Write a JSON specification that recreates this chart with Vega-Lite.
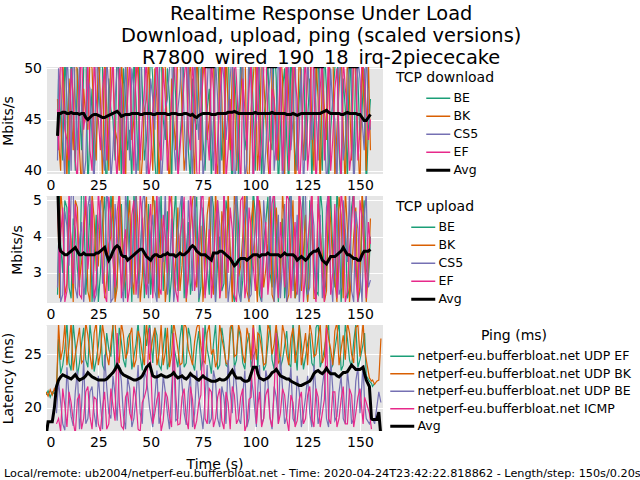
{
"$schema": "https://vega.github.io/schema/vega-lite/v6.json",
"padding": {"left": 1, "right": 2, "top": 3, "bottom": 2},
"background": "white",
"title": {"text": ["Realtime Response Under Load", "Download, upload, ping (scaled versions)", "R7800_wired_190_18_irq-2piececake"], "fontSize": 19.4, "lineHeight": 22, "font": "DejaVu Sans", "fontWeight": "normal", "anchor": "middle", "color": "black", "offset": -7},
"datasets": {
"dl": [
{"t":5.5,"BE":44,"BK":47,"CS5":41,"EF":46,"Avg":43.4},
{"t":6,"BE":49,"BK":43,"CS5":50,"EF":42,"Avg":45.6},
{"t":8,"BE":41,"BK":51,"CS5":44,"EF":49,"Avg":45.7},
{"t":10,"BE":47,"BK":39,"CS5":52,"EF":43,"Avg":45.6},
{"t":12,"BE":52,"BK":46,"CS5":40,"EF":50,"Avg":45.7},
{"t":14,"BE":40,"BK":53,"CS5":47,"EF":41,"Avg":45.6},
{"t":16,"BE":46,"BK":42,"CS5":51,"EF":48,"Avg":45.5},
{"t":18,"BE":50,"BK":48,"CS5":39,"EF":44,"Avg":45.6},
{"t":20,"BE":38,"BK":44,"CS5":49,"EF":51,"Avg":45.0},
{"t":22,"BE":48,"BK":50,"CS5":43,"EF":40,"Avg":45.4},
{"t":24,"BE":43,"BK":41,"CS5":52,"EF":47,"Avg":45.5},
{"t":26,"BE":51,"BK":47,"CS5":45,"EF":42,"Avg":45.3},
{"t":28,"BE":42,"BK":52,"CS5":40,"EF":50,"Avg":45.2},
{"t":30,"BE":49,"BK":40,"CS5":48,"EF":44,"Avg":45.4},
{"t":32,"BE":45,"BK":49,"CS5":42,"EF":52,"Avg":45.6},
{"t":34,"BE":53,"BK":43,"CS5":50,"EF":39,"Avg":45.8},
{"t":36,"BE":39,"BK":51,"CS5":44,"EF":48,"Avg":45.3},
{"t":38,"BE":47,"BK":38,"CS5":51,"EF":43,"Avg":45.5},
{"t":40,"BE":44,"BK":50,"CS5":41,"EF":51,"Avg":45.5},
{"t":42,"BE":51,"BK":45,"CS5":48,"EF":40,"Avg":45.6},
{"t":44,"BE":40,"BK":52,"CS5":43,"EF":49,"Avg":45.6},
{"t":46,"BE":48,"BK":41,"CS5":52,"EF":45,"Avg":45.5},
{"t":48,"BE":43,"BK":47,"CS5":39,"EF":51,"Avg":45.6},
{"t":50,"BE":52,"BK":44,"CS5":49,"EF":41,"Avg":45.6},
{"t":52,"BE":41,"BK":50,"CS5":44,"EF":48,"Avg":45.5},
{"t":54,"BE":49,"BK":39,"CS5":51,"EF":43,"Avg":45.6},
{"t":56,"BE":45,"BK":52,"CS5":42,"EF":50,"Avg":45.6},
{"t":58,"BE":50,"BK":43,"CS5":47,"EF":40,"Avg":45.5},
{"t":60,"BE":38,"BK":49,"CS5":52,"EF":47,"Avg":45.6},
{"t":62,"BE":47,"BK":42,"CS5":40,"EF":52,"Avg":45.6},
{"t":64,"BE":43,"BK":51,"CS5":48,"EF":42,"Avg":45.5},
{"t":66,"BE":51,"BK":40,"CS5":45,"EF":49,"Avg":45.6},
{"t":68,"BE":42,"BK":48,"CS5":51,"EF":44,"Avg":45.5},
{"t":70,"BE":49,"BK":44,"CS5":39,"EF":51,"Avg":45.5},
{"t":72,"BE":44,"BK":52,"CS5":47,"EF":40,"Avg":45.2},
{"t":74,"BE":52,"BK":41,"CS5":50,"EF":46,"Avg":45.5},
{"t":76,"BE":40,"BK":49,"CS5":42,"EF":52,"Avg":45.6},
{"t":78,"BE":48,"BK":45,"CS5":53,"EF":41,"Avg":45.6},
{"t":80,"BE":45,"BK":51,"CS5":40,"EF":48,"Avg":45.5},
{"t":82,"BE":51,"BK":39,"CS5":47,"EF":43,"Avg":45.6},
{"t":84,"BE":41,"BK":47,"CS5":51,"EF":50,"Avg":45.6},
{"t":86,"BE":49,"BK":53,"CS5":43,"EF":39,"Avg":45.6},
{"t":88,"BE":43,"BK":42,"CS5":49,"EF":47,"Avg":45.7},
{"t":90,"BE":50,"BK":48,"CS5":38,"EF":52,"Avg":45.8},
{"t":92,"BE":39,"BK":44,"CS5":46,"EF":44,"Avg":45.6},
{"t":94,"BE":47,"BK":51,"CS5":52,"EF":49,"Avg":45.6},
{"t":96,"BE":44,"BK":40,"CS5":41,"EF":42,"Avg":45.6},
{"t":98,"BE":52,"BK":46,"CS5":48,"EF":51,"Avg":45.6},
{"t":100,"BE":40,"BK":52,"CS5":44,"EF":45,"Avg":45.7},
{"t":102,"BE":48,"BK":43,"CS5":50,"EF":40,"Avg":45.6},
{"t":104,"BE":45,"BK":49,"CS5":39,"EF":50,"Avg":45.6},
{"t":106,"BE":51,"BK":41,"CS5":47,"EF":44,"Avg":45.6},
{"t":108,"BE":42,"BK":50,"CS5":52,"EF":48,"Avg":45.7},
{"t":110,"BE":49,"BK":44,"CS5":43,"EF":41,"Avg":45.6},
{"t":112,"BE":44,"BK":52,"CS5":49,"EF":51,"Avg":45.6},
{"t":114,"BE":50,"BK":39,"CS5":42,"EF":46,"Avg":45.6},
{"t":116,"BE":38,"BK":47,"CS5":51,"EF":40,"Avg":45.5},
{"t":118,"BE":47,"BK":51,"CS5":45,"EF":52,"Avg":45.6},
{"t":120,"BE":44,"BK":42,"CS5":40,"EF":47,"Avg":45.4},
{"t":122,"BE":51,"BK":48,"CS5":50,"EF":42,"Avg":45.6},
{"t":124,"BE":41,"BK":45,"CS5":44,"EF":51,"Avg":45.6},
{"t":126,"BE":49,"BK":53,"CS5":47,"EF":43,"Avg":45.6},
{"t":128,"BE":45,"BK":40,"CS5":52,"EF":49,"Avg":45.6},
{"t":130,"BE":52,"BK":47,"CS5":41,"EF":44,"Avg":45.6},
{"t":132,"BE":40,"BK":50,"CS5":48,"EF":51,"Avg":45.7},
{"t":134,"BE":48,"BK":43,"CS5":39,"EF":45,"Avg":45.9},
{"t":136,"BE":44,"BK":51,"CS5":50,"EF":40,"Avg":45.6},
{"t":138,"BE":50,"BK":39,"CS5":45,"EF":48,"Avg":45.6},
{"t":140,"BE":42,"BK":48,"CS5":52,"EF":43,"Avg":45.6},
{"t":142,"BE":49,"BK":44,"CS5":41,"EF":51,"Avg":45.5},
{"t":144,"BE":39,"BK":52,"CS5":47,"EF":46,"Avg":45.7},
{"t":146,"BE":47,"BK":41,"CS5":50,"EF":42,"Avg":45.6},
{"t":148,"BE":51,"BK":49,"CS5":43,"EF":50,"Avg":45.6},
{"t":150,"BE":43,"BK":38,"CS5":49,"EF":44,"Avg":45.5},
{"t":152,"BE":50,"BK":46,"CS5":42,"EF":49,"Avg":44.9},
{"t":154,"BE":44,"BK":51,"CS5":46,"EF":43,"Avg":45.2},
{"t":155,"BE":47,"BK":42,"CS5":44,"EF":45,"Avg":45.5},
{"t":7,"BE":45,"BK":40,"CS5":48,"EF":52,"Avg":45.6},
{"t":9,"BE":51,"BK":46,"CS5":39,"EF":44,"Avg":45.7},
{"t":11,"BE":39,"BK":49,"CS5":47,"EF":41,"Avg":45.6},
{"t":13,"BE":46,"BK":42,"CS5":53,"EF":47,"Avg":45.6},
{"t":15,"BE":50,"BK":49,"CS5":42,"EF":39,"Avg":45.6},
{"t":17,"BE":42,"BK":38,"CS5":46,"EF":52,"Avg":45.6},
{"t":19,"BE":53,"BK":45,"CS5":41,"EF":46,"Avg":45.2},
{"t":21,"BE":44,"BK":51,"CS5":48,"EF":42,"Avg":45.2},
{"t":23,"BE":40,"BK":44,"CS5":38,"EF":51,"Avg":45.5},
{"t":25,"BE":47,"BK":52,"CS5":49,"EF":45,"Avg":45.4},
{"t":27,"BE":50,"BK":39,"CS5":42,"EF":48,"Avg":45.2},
{"t":29,"BE":38,"BK":46,"CS5":51,"EF":41,"Avg":45.3},
{"t":31,"BE":46,"BK":53,"CS5":39,"EF":47,"Avg":45.5},
{"t":33,"BE":41,"BK":44,"CS5":47,"EF":42,"Avg":45.7},
{"t":35,"BE":48,"BK":40,"CS5":53,"EF":50,"Avg":45.6},
{"t":37,"BE":50,"BK":47,"CS5":40,"EF":38,"Avg":45.4},
{"t":39,"BE":42,"BK":52,"CS5":46,"EF":47,"Avg":45.5},
{"t":41,"BE":39,"BK":43,"CS5":50,"EF":44,"Avg":45.6},
{"t":43,"BE":47,"BK":49,"CS5":39,"EF":52,"Avg":45.6},
{"t":45,"BE":53,"BK":38,"CS5":46,"EF":41,"Avg":45.5},
{"t":47,"BE":41,"BK":46,"CS5":51,"EF":48,"Avg":45.6},
{"t":49,"BE":46,"BK":51,"CS5":42,"EF":39,"Avg":45.6},
{"t":51,"BE":49,"BK":40,"CS5":47,"EF":46,"Avg":45.5},
{"t":53,"BE":38,"BK":47,"CS5":53,"EF":52,"Avg":45.6},
{"t":55,"BE":52,"BK":44,"CS5":38,"EF":41,"Avg":45.6},
{"t":57,"BE":43,"BK":50,"CS5":46,"EF":47,"Avg":45.6},
{"t":59,"BE":47,"BK":38,"CS5":50,"EF":43,"Avg":45.5},
{"t":61,"BE":51,"BK":45,"CS5":43,"EF":49,"Avg":45.6},
{"t":63,"BE":40,"BK":53,"CS5":46,"EF":39,"Avg":45.5},
{"t":65,"BE":46,"BK":46,"CS5":52,"EF":45,"Avg":45.5},
{"t":67,"BE":53,"BK":42,"CS5":40,"EF":51,"Avg":45.6},
{"t":69,"BE":39,"BK":51,"CS5":44,"EF":42,"Avg":45.4},
{"t":71,"BE":45,"BK":39,"CS5":52,"EF":47,"Avg":45.3},
{"t":73,"BE":50,"BK":47,"CS5":43,"EF":38,"Avg":45.4},
{"t":75,"BE":43,"BK":53,"CS5":39,"EF":49,"Avg":45.6},
{"t":77,"BE":46,"BK":43,"CS5":48,"EF":44,"Avg":45.6},
{"t":79,"BE":39,"BK":50,"CS5":44,"EF":51,"Avg":45.5},
{"t":81,"BE":52,"BK":42,"CS5":51,"EF":39,"Avg":45.5},
{"t":83,"BE":47,"BK":52,"CS5":38,"EF":47,"Avg":45.6},
{"t":85,"BE":44,"BK":38,"CS5":49,"EF":53,"Avg":45.6},
{"t":87,"BE":53,"BK":46,"CS5":46,"EF":42,"Avg":45.7},
{"t":89,"BE":38,"BK":50,"CS5":52,"EF":40,"Avg":45.7},
{"t":91,"BE":46,"BK":40,"CS5":41,"EF":49,"Avg":45.7},
{"t":93,"BE":52,"BK":47,"CS5":49,"EF":38,"Avg":45.6},
{"t":95,"BE":42,"BK":53,"CS5":39,"EF":46,"Avg":45.6},
{"t":97,"BE":49,"BK":39,"CS5":53,"EF":48,"Avg":45.6},
{"t":99,"BE":46,"BK":49,"CS5":38,"EF":39,"Avg":45.6},
{"t":101,"BE":53,"BK":40,"CS5":46,"EF":52,"Avg":45.6},
{"t":103,"BE":39,"BK":52,"CS5":53,"EF":43,"Avg":45.6},
{"t":105,"BE":47,"BK":45,"CS5":42,"EF":53,"Avg":45.6},
{"t":107,"BE":43,"BK":38,"CS5":49,"EF":39,"Avg":45.6},
{"t":109,"BE":53,"BK":47,"CS5":40,"EF":47,"Avg":45.6},
{"t":111,"BE":38,"BK":41,"CS5":51,"EF":44,"Avg":45.6},
{"t":113,"BE":48,"BK":49,"CS5":38,"EF":40,"Avg":45.6},
{"t":115,"BE":43,"BK":53,"CS5":48,"EF":52,"Avg":45.5},
{"t":117,"BE":52,"BK":43,"CS5":42,"EF":43,"Avg":45.5},
{"t":119,"BE":40,"BK":38,"CS5":52,"EF":49,"Avg":45.5},
{"t":121,"BE":47,"BK":52,"CS5":44,"EF":38,"Avg":45.5},
{"t":123,"BE":53,"BK":41,"CS5":38,"EF":48,"Avg":45.6},
{"t":125,"BE":45,"BK":49,"CS5":51,"EF":40,"Avg":45.6},
{"t":127,"BE":39,"BK":44,"CS5":43,"EF":53,"Avg":45.6},
{"t":129,"BE":48,"BK":51,"CS5":46,"EF":38,"Avg":45.6},
{"t":131,"BE":44,"BK":38,"CS5":53,"EF":48,"Avg":45.6},
{"t":133,"BE":52,"BK":46,"CS5":44,"EF":41,"Avg":45.8},
{"t":135,"BE":39,"BK":49,"CS5":41,"EF":52,"Avg":45.7},
{"t":137,"BE":47,"BK":53,"CS5":46,"EF":43,"Avg":45.6},
{"t":139,"BE":53,"BK":44,"CS5":38,"EF":50,"Avg":45.6},
{"t":141,"BE":38,"BK":52,"CS5":49,"EF":39,"Avg":45.5},
{"t":143,"BE":46,"BK":38,"CS5":43,"EF":48,"Avg":45.6},
{"t":145,"BE":52,"BK":47,"CS5":53,"EF":40,"Avg":45.6},
{"t":147,"BE":40,"BK":52,"CS5":38,"EF":53,"Avg":45.6},
{"t":149,"BE":49,"BK":43,"CS5":51,"EF":41,"Avg":45.5},
{"t":151,"BE":46,"BK":51,"CS5":45,"EF":52,"Avg":45.2},
{"t":153,"BE":38,"BK":40,"CS5":52,"EF":46,"Avg":44.9}
],
"ul": [
{"t":5.5,"BE":2.4,"BK":5.4,"CS5":2.6,"EF":5.2,"Avg":5.6},
{"t":6.5,"BE":5.2,"BK":2.3,"CS5":4.9,"EF":3.0,"Avg":3.7},
{"t":8,"BE":3.0,"BK":4.6,"CS5":2.4,"EF":4.8,"Avg":3.55},
{"t":10,"BE":4.8,"BK":2.7,"CS5":4.3,"EF":2.5,"Avg":3.5},
{"t":12,"BE":2.3,"BK":3.9,"CS5":5.1,"EF":3.6,"Avg":3.6},
{"t":14,"BE":4.2,"BK":5.0,"CS5":2.6,"EF":4.9,"Avg":3.7},
{"t":16,"BE":2.6,"BK":2.8,"CS5":3.9,"EF":2.4,"Avg":3.5},
{"t":18,"BE":5.3,"BK":4.1,"CS5":2.2,"EF":4.4,"Avg":3.55},
{"t":20,"BE":3.4,"BK":2.5,"CS5":4.8,"EF":3.1,"Avg":3.5},
{"t":22,"BE":2.2,"BK":5.2,"CS5":3.0,"EF":5.0,"Avg":3.5},
{"t":24,"BE":4.6,"BK":3.1,"CS5":2.4,"EF":2.7,"Avg":3.55},
{"t":26,"BE":3.0,"BK":4.7,"CS5":5.0,"EF":4.3,"Avg":3.6},
{"t":28,"BE":5.1,"BK":2.3,"CS5":3.2,"EF":2.4,"Avg":3.7},
{"t":30,"BE":2.5,"BK":3.8,"CS5":4.6,"EF":5.1,"Avg":3.35},
{"t":32,"BE":4.4,"BK":5.3,"CS5":2.3,"EF":3.3,"Avg":3.6},
{"t":34,"BE":2.9,"BK":2.6,"CS5":4.0,"EF":4.7,"Avg":3.75},
{"t":36,"BE":4.9,"BK":4.4,"CS5":2.7,"EF":2.3,"Avg":3.5},
{"t":38,"BE":2.3,"BK":3.0,"CS5":5.2,"EF":4.2,"Avg":3.45},
{"t":40,"BE":3.8,"BK":5.0,"CS5":3.1,"EF":2.6,"Avg":3.4},
{"t":42,"BE":5.2,"BK":2.4,"CS5":4.4,"EF":5.0,"Avg":3.5},
{"t":44,"BE":2.7,"BK":4.2,"CS5":2.3,"EF":3.2,"Avg":3.6},
{"t":46,"BE":4.5,"BK":2.9,"CS5":4.9,"EF":4.5,"Avg":3.65},
{"t":48,"BE":3.2,"BK":5.1,"CS5":3.0,"EF":2.4,"Avg":3.45},
{"t":50,"BE":2.4,"BK":3.3,"CS5":4.1,"EF":4.9,"Avg":3.35},
{"t":52,"BE":5.0,"BK":4.6,"CS5":2.5,"EF":3.5,"Avg":3.5},
{"t":54,"BE":3.6,"BK":2.3,"CS5":5.1,"EF":2.6,"Avg":3.45},
{"t":56,"BE":2.5,"BK":4.0,"CS5":3.3,"EF":4.6,"Avg":3.5},
{"t":58,"BE":4.7,"BK":2.8,"CS5":2.4,"EF":3.0,"Avg":3.55},
{"t":60,"BE":2.9,"BK":5.2,"CS5":4.5,"EF":4.8,"Avg":3.5},
{"t":62,"BE":5.3,"BK":3.4,"CS5":2.7,"EF":2.5,"Avg":3.45},
{"t":64,"BE":3.1,"BK":2.5,"CS5":4.8,"EF":4.0,"Avg":3.55},
{"t":66,"BE":2.3,"BK":4.5,"CS5":3.0,"EF":5.1,"Avg":3.5},
{"t":68,"BE":4.4,"BK":3.0,"CS5":5.0,"EF":2.8,"Avg":3.6},
{"t":70,"BE":3.0,"BK":5.0,"CS5":2.5,"EF":4.4,"Avg":3.75},
{"t":72,"BE":5.1,"BK":2.6,"CS5":3.9,"EF":3.0,"Avg":3.6},
{"t":74,"BE":2.6,"BK":4.3,"CS5":5.2,"EF":4.9,"Avg":3.5},
{"t":76,"BE":4.0,"BK":3.2,"CS5":2.4,"EF":2.3,"Avg":3.5},
{"t":78,"BE":2.4,"BK":5.1,"CS5":4.3,"EF":4.2,"Avg":3.4},
{"t":80,"BE":4.8,"BK":2.4,"CS5":3.1,"EF":3.1,"Avg":3.55},
{"t":82,"BE":3.3,"BK":3.9,"CS5":5.0,"EF":5.0,"Avg":3.55},
{"t":84,"BE":2.5,"BK":4.7,"CS5":2.6,"EF":2.7,"Avg":3.6},
{"t":86,"BE":5.0,"BK":2.3,"CS5":4.0,"EF":3.9,"Avg":3.5},
{"t":88,"BE":3.5,"BK":3.6,"CS5":2.8,"EF":4.8,"Avg":3.4},
{"t":90,"BE":2.2,"BK":5.2,"CS5":4.6,"EF":2.4,"Avg":3.2},
{"t":92,"BE":4.3,"BK":2.9,"CS5":2.5,"EF":3.4,"Avg":3.35},
{"t":94,"BE":2.8,"BK":4.0,"CS5":3.7,"EF":5.1,"Avg":3.4},
{"t":96,"BE":5.2,"BK":2.5,"CS5":5.1,"EF":2.8,"Avg":3.35},
{"t":98,"BE":3.0,"BK":4.4,"CS5":2.4,"EF":4.2,"Avg":3.45},
{"t":100,"BE":4.6,"BK":3.1,"CS5":4.2,"EF":2.5,"Avg":3.5},
{"t":102,"BE":2.4,"BK":5.0,"CS5":3.0,"EF":4.6,"Avg":3.45},
{"t":104,"BE":3.9,"BK":2.6,"CS5":5.0,"EF":3.3,"Avg":3.5},
{"t":106,"BE":5.1,"BK":3.8,"CS5":2.6,"EF":2.4,"Avg":3.55},
{"t":108,"BE":2.6,"BK":2.4,"CS5":4.4,"EF":4.9,"Avg":3.5},
{"t":110,"BE":4.2,"BK":4.8,"CS5":3.1,"EF":3.0,"Avg":3.5},
{"t":112,"BE":3.2,"BK":2.7,"CS5":2.3,"EF":4.4,"Avg":3.45},
{"t":114,"BE":2.3,"BK":4.3,"CS5":4.9,"EF":2.6,"Avg":3.55},
{"t":116,"BE":4.9,"BK":2.4,"CS5":3.4,"EF":5.0,"Avg":3.5},
{"t":118,"BE":3.5,"BK":5.0,"CS5":2.5,"EF":3.5,"Avg":3.5},
{"t":120,"BE":2.5,"BK":3.2,"CS5":4.6,"EF":2.4,"Avg":3.35},
{"t":122,"BE":4.5,"BK":2.5,"CS5":3.0,"EF":4.7,"Avg":3.45},
{"t":124,"BE":2.8,"BK":4.6,"CS5":5.1,"EF":3.1,"Avg":3.35},
{"t":126,"BE":5.0,"BK":3.0,"CS5":2.6,"EF":4.5,"Avg":3.5},
{"t":128,"BE":3.3,"BK":2.3,"CS5":4.3,"EF":2.6,"Avg":3.6},
{"t":130,"BE":2.4,"BK":4.9,"CS5":3.2,"EF":5.2,"Avg":3.65},
{"t":132,"BE":4.7,"BK":3.5,"CS5":2.3,"EF":3.0,"Avg":3.35},
{"t":134,"BE":3.0,"BK":2.5,"CS5":4.8,"EF":4.3,"Avg":3.25},
{"t":136,"BE":5.2,"BK":4.4,"CS5":2.9,"EF":2.4,"Avg":3.45},
{"t":138,"BE":2.6,"BK":2.8,"CS5":4.1,"EF":4.9,"Avg":3.45},
{"t":140,"BE":4.4,"BK":5.1,"CS5":2.4,"EF":3.2,"Avg":3.55},
{"t":142,"BE":3.1,"BK":2.3,"CS5":5.0,"EF":4.6,"Avg":3.7},
{"t":144,"BE":2.3,"BK":4.2,"CS5":3.3,"EF":2.5,"Avg":3.5},
{"t":146,"BE":4.8,"BK":3.0,"CS5":2.5,"EF":4.4,"Avg":3.45},
{"t":148,"BE":3.4,"BK":4.8,"CS5":4.7,"EF":2.9,"Avg":3.4},
{"t":150,"BE":2.5,"BK":2.6,"CS5":3.0,"EF":5.0,"Avg":3.35},
{"t":152,"BE":5.0,"BK":4.1,"CS5":4.5,"EF":3.6,"Avg":3.6},
{"t":154,"BE":2.8,"BK":3.0,"CS5":2.6,"EF":4.4,"Avg":3.6},
{"t":155,"BE":4.0,"BK":4.5,"CS5":2.8,"EF":3.8,"Avg":3.65},
{"t":7,"BE":3.8,"BK":5.3,"CS5":2.2,"EF":4.0,"Avg":3.6},
{"t":9,"BE":5.0,"BK":2.4,"CS5":4.7,"EF":2.2,"Avg":3.5},
{"t":11,"BE":2.6,"BK":4.6,"CS5":3.2,"EF":5.3,"Avg":3.55},
{"t":13,"BE":4.5,"BK":2.2,"CS5":5.3,"EF":2.7,"Avg":3.65},
{"t":15,"BE":3.1,"BK":4.8,"CS5":2.3,"EF":4.2,"Avg":3.6},
{"t":17,"BE":5.4,"BK":3.3,"CS5":4.4,"EF":2.3,"Avg":3.5},
{"t":19,"BE":2.4,"BK":5.0,"CS5":3.0,"EF":5.2,"Avg":3.5},
{"t":21,"BE":4.9,"BK":2.2,"CS5":5.2,"EF":3.8,"Avg":3.5},
{"t":23,"BE":3.3,"BK":4.5,"CS5":2.2,"EF":2.3,"Avg":3.5},
{"t":25,"BE":2.2,"BK":3.2,"CS5":4.2,"EF":5.3,"Avg":3.55},
{"t":27,"BE":4.4,"BK":5.4,"CS5":2.7,"EF":3.1,"Avg":3.65},
{"t":29,"BE":3.4,"BK":2.8,"CS5":5.3,"EF":2.2,"Avg":3.5},
{"t":31,"BE":5.2,"BK":4.0,"CS5":2.2,"EF":4.5,"Avg":3.45},
{"t":33,"BE":2.3,"BK":2.2,"CS5":4.9,"EF":2.6,"Avg":3.7},
{"t":35,"BE":4.0,"BK":5.3,"CS5":3.4,"EF":5.2,"Avg":3.7},
{"t":37,"BE":3.2,"BK":2.5,"CS5":2.2,"EF":3.7,"Avg":3.45},
{"t":39,"BE":5.3,"BK":4.3,"CS5":4.5,"EF":2.2,"Avg":3.35},
{"t":41,"BE":2.2,"BK":2.9,"CS5":2.6,"EF":4.6,"Avg":3.45},
{"t":43,"BE":4.3,"BK":5.3,"CS5":5.2,"EF":2.4,"Avg":3.55},
{"t":45,"BE":3.6,"BK":2.2,"CS5":3.1,"EF":5.2,"Avg":3.65},
{"t":47,"BE":2.3,"BK":4.5,"CS5":5.3,"EF":3.0,"Avg":3.55},
{"t":49,"BE":4.9,"BK":2.7,"CS5":2.3,"EF":4.3,"Avg":3.4},
{"t":51,"BE":3.3,"BK":5.3,"CS5":4.6,"EF":2.3,"Avg":3.45},
{"t":53,"BE":2.3,"BK":3.0,"CS5":2.2,"EF":5.3,"Avg":3.5},
{"t":55,"BE":5.2,"BK":4.5,"CS5":4.2,"EF":2.4,"Avg":3.45},
{"t":57,"BE":3.4,"BK":2.2,"CS5":5.3,"EF":4.0,"Avg":3.5},
{"t":59,"BE":2.2,"BK":5.3,"CS5":3.0,"EF":5.2,"Avg":3.5},
{"t":61,"BE":4.4,"BK":2.4,"CS5":2.2,"EF":3.3,"Avg":3.5},
{"t":63,"BE":2.5,"BK":4.8,"CS5":4.0,"EF":2.2,"Avg":3.5},
{"t":65,"BE":5.3,"BK":3.2,"CS5":5.3,"EF":4.4,"Avg":3.5},
{"t":67,"BE":3.6,"BK":2.2,"CS5":2.3,"EF":2.3,"Avg":3.55},
{"t":69,"BE":2.4,"BK":4.2,"CS5":4.0,"EF":5.3,"Avg":3.7},
{"t":71,"BE":4.6,"BK":5.3,"CS5":5.3,"EF":2.5,"Avg":3.7},
{"t":73,"BE":2.2,"BK":3.5,"CS5":2.3,"EF":4.0,"Avg":3.55},
{"t":75,"BE":4.8,"BK":2.2,"CS5":4.3,"EF":5.3,"Avg":3.5},
{"t":77,"BE":3.2,"BK":4.6,"CS5":3.0,"EF":3.2,"Avg":3.45},
{"t":79,"BE":5.3,"BK":2.9,"CS5":5.3,"EF":2.3,"Avg":3.35},
{"t":81,"BE":2.2,"BK":5.3,"CS5":2.2,"EF":4.4,"Avg":3.55},
{"t":83,"BE":4.0,"BK":2.3,"CS5":4.3,"EF":2.3,"Avg":3.6},
{"t":85,"BE":2.7,"BK":4.2,"CS5":5.2,"EF":5.3,"Avg":3.55},
{"t":87,"BE":4.6,"BK":5.3,"CS5":2.2,"EF":3.0,"Avg":3.45},
{"t":89,"BE":2.5,"BK":2.2,"CS5":3.6,"EF":4.2,"Avg":3.3},
{"t":91,"BE":5.3,"BK":4.6,"CS5":5.3,"EF":2.2,"Avg":3.25},
{"t":93,"BE":2.2,"BK":3.2,"CS5":2.2,"EF":5.0,"Avg":3.4},
{"t":95,"BE":4.0,"BK":5.3,"CS5":4.6,"EF":2.3,"Avg":3.4},
{"t":97,"BE":2.3,"BK":2.2,"CS5":2.3,"EF":4.8,"Avg":3.4},
{"t":99,"BE":5.3,"BK":5.0,"CS5":3.6,"EF":3.2,"Avg":3.5},
{"t":101,"BE":3.4,"BK":2.2,"CS5":5.3,"EF":5.3,"Avg":3.5},
{"t":103,"BE":2.2,"BK":4.4,"CS5":2.2,"EF":2.3,"Avg":3.5},
{"t":105,"BE":4.4,"BK":3.1,"CS5":4.0,"EF":4.4,"Avg":3.5},
{"t":107,"BE":3.0,"BK":5.3,"CS5":5.3,"EF":3.1,"Avg":3.5},
{"t":109,"BE":5.3,"BK":2.2,"CS5":2.2,"EF":5.3,"Avg":3.5},
{"t":111,"BE":2.2,"BK":4.0,"CS5":4.6,"EF":2.3,"Avg":3.5},
{"t":113,"BE":4.5,"BK":5.2,"CS5":3.3,"EF":3.6,"Avg":3.5},
{"t":115,"BE":3.0,"BK":2.2,"CS5":2.2,"EF":5.2,"Avg":3.5},
{"t":117,"BE":5.3,"BK":4.0,"CS5":5.2,"EF":2.3,"Avg":3.5},
{"t":119,"BE":2.3,"BK":2.3,"CS5":3.4,"EF":4.4,"Avg":3.45},
{"t":121,"BE":3.5,"BK":5.3,"CS5":2.2,"EF":5.3,"Avg":3.4},
{"t":123,"BE":5.2,"BK":3.6,"CS5":5.3,"EF":2.2,"Avg":3.4},
{"t":125,"BE":2.2,"BK":2.2,"CS5":2.4,"EF":3.8,"Avg":3.4},
{"t":127,"BE":4.2,"BK":5.3,"CS5":4.9,"EF":5.3,"Avg":3.55},
{"t":129,"BE":2.5,"BK":2.3,"CS5":2.3,"EF":2.2,"Avg":3.6},
{"t":131,"BE":5.3,"BK":4.2,"CS5":4.6,"EF":4.0,"Avg":3.5},
{"t":133,"BE":2.3,"BK":2.2,"CS5":3.0,"EF":2.2,"Avg":3.3},
{"t":135,"BE":4.0,"BK":5.3,"CS5":5.3,"EF":5.3,"Avg":3.35},
{"t":137,"BE":3.6,"BK":3.2,"CS5":2.2,"EF":3.0,"Avg":3.45},
{"t":139,"BE":5.3,"BK":2.2,"CS5":4.8,"EF":2.3,"Avg":3.5},
{"t":141,"BE":2.2,"BK":4.6,"CS5":2.6,"EF":5.3,"Avg":3.6},
{"t":143,"BE":4.2,"BK":5.3,"CS5":4.2,"EF":2.2,"Avg":3.6},
{"t":145,"BE":2.6,"BK":2.2,"CS5":5.3,"EF":3.7,"Avg":3.5},
{"t":147,"BE":5.3,"BK":4.0,"CS5":2.2,"EF":5.3,"Avg":3.4},
{"t":149,"BE":2.2,"BK":2.3,"CS5":4.2,"EF":2.2,"Avg":3.35},
{"t":151,"BE":4.4,"BK":5.3,"CS5":2.2,"EF":4.5,"Avg":3.5},
{"t":153,"BE":3.1,"BK":2.2,"CS5":5.2,"EF":2.3,"Avg":3.6}
],
"pg": [
{"t":0,"EF":21.2,"BK":21.5,"BE":null,"ICMP":null,"Avg":17.3},
{"t":1,"EF":21.6,"BK":21.1,"BE":null,"ICMP":null,"Avg":18.7},
{"t":2,"EF":21.0,"BK":21.7,"BE":null,"ICMP":null,"Avg":18.7},
{"t":3,"EF":21.5,"BK":21.2,"BE":null,"ICMP":null,"Avg":18.7},
{"t":4,"EF":21.3,"BK":21.8,"BE":null,"ICMP":null,"Avg":20.0},
{"t":5,"EF":21.8,"BK":21.4,"BE":19.5,"ICMP":18.5,"Avg":22.0},
{"t":6,"EF":26.5,"BK":27.9,"BE":22.5,"ICMP":19.0,"Avg":22.6},
{"t":8,"EF":24.0,"BK":25.5,"BE":18.5,"ICMP":21.8,"Avg":23.1},
{"t":10,"EF":28.0,"BK":24.0,"BE":23.8,"ICMP":18.2,"Avg":22.9},
{"t":12,"EF":23.5,"BK":28.0,"BE":19.2,"ICMP":20.5,"Avg":22.7},
{"t":14,"EF":25.8,"BK":25.0,"BE":21.5,"ICMP":17.5,"Avg":23.1},
{"t":16,"EF":24.2,"BK":27.5,"BE":18.0,"ICMP":21.2,"Avg":22.6},
{"t":18,"EF":27.5,"BK":24.5,"BE":24.5,"ICMP":19.0,"Avg":22.8},
{"t":20,"EF":23.8,"BK":26.8,"BE":19.0,"ICMP":22.0,"Avg":23.3},
{"t":22,"EF":26.0,"BK":23.6,"BE":22.0,"ICMP":18.0,"Avg":22.9},
{"t":24,"EF":24.5,"BK":28.0,"BE":18.2,"ICMP":20.8,"Avg":22.7},
{"t":26,"EF":28.0,"BK":25.2,"BE":20.5,"ICMP":17.8,"Avg":22.6},
{"t":28,"EF":23.5,"BK":26.5,"BE":25.0,"ICMP":21.5,"Avg":22.6},
{"t":30,"EF":25.5,"BK":24.0,"BE":19.5,"ICMP":18.5,"Avg":22.9},
{"t":32,"EF":27.8,"BK":27.8,"BE":23.0,"ICMP":20.2,"Avg":23.3},
{"t":34,"EF":24.0,"BK":25.0,"BE":18.8,"ICMP":27.0,"Avg":24.0},
{"t":36,"EF":26.2,"BK":28.0,"BE":22.5,"ICMP":18.3,"Avg":23.3},
{"t":38,"EF":23.8,"BK":24.6,"BE":18.0,"ICMP":21.0,"Avg":23.0},
{"t":40,"EF":27.0,"BK":26.8,"BE":21.8,"ICMP":19.5,"Avg":22.8},
{"t":42,"EF":24.8,"BK":23.8,"BE":19.0,"ICMP":22.0,"Avg":22.6},
{"t":44,"EF":28.0,"BK":27.2,"BE":24.0,"ICMP":18.0,"Avg":22.7},
{"t":46,"EF":23.5,"BK":25.0,"BE":18.5,"ICMP":20.5,"Avg":23.0},
{"t":48,"EF":25.8,"BK":28.0,"BE":22.8,"ICMP":21.8,"Avg":23.8},
{"t":49.5,"EF":28.0,"BK":24.5,"BE":20.0,"ICMP":27.5,"Avg":24.1},
{"t":51,"EF":24.2,"BK":26.5,"BE":18.2,"ICMP":18.5,"Avg":23.0},
{"t":53,"EF":26.8,"BK":24.0,"BE":23.5,"ICMP":20.8,"Avg":22.9},
{"t":55,"EF":23.6,"BK":27.8,"BE":19.5,"ICMP":17.8,"Avg":23.1},
{"t":57,"EF":27.5,"BK":25.2,"BE":21.5,"ICMP":21.5,"Avg":22.9},
{"t":59,"EF":24.5,"BK":23.8,"BE":18.0,"ICMP":19.2,"Avg":23.0},
{"t":61,"EF":25.8,"BK":28.0,"BE":25.5,"ICMP":27.0,"Avg":23.3},
{"t":63,"EF":23.8,"BK":25.5,"BE":19.0,"ICMP":18.4,"Avg":22.8},
{"t":65,"EF":28.0,"BK":24.2,"BE":22.2,"ICMP":21.0,"Avg":23.0},
{"t":67,"EF":24.2,"BK":27.5,"BE":18.4,"ICMP":19.0,"Avg":22.7},
{"t":69,"EF":26.5,"BK":24.8,"BE":23.0,"ICMP":22.0,"Avg":23.2},
{"t":71,"EF":23.5,"BK":26.2,"BE":19.5,"ICMP":18.0,"Avg":22.9},
{"t":73,"EF":27.2,"BK":28.0,"BE":21.0,"ICMP":20.5,"Avg":22.6},
{"t":75,"EF":24.5,"BK":24.5,"BE":18.0,"ICMP":27.5,"Avg":23.0},
{"t":77,"EF":25.5,"BK":27.0,"BE":24.0,"ICMP":18.5,"Avg":22.7},
{"t":79,"EF":23.2,"BK":25.0,"BE":19.0,"ICMP":21.5,"Avg":22.5},
{"t":81,"EF":27.8,"BK":23.8,"BE":22.5,"ICMP":19.0,"Avg":22.5},
{"t":83,"EF":24.0,"BK":27.8,"BE":18.2,"ICMP":21.8,"Avg":22.7},
{"t":85,"EF":26.0,"BK":25.5,"BE":21.0,"ICMP":18.0,"Avg":22.6},
{"t":87,"EF":23.8,"BK":24.0,"BE":24.5,"ICMP":20.5,"Avg":22.9},
{"t":89,"EF":28.0,"BK":28.0,"BE":19.5,"ICMP":22.0,"Avg":23.5},
{"t":91,"EF":24.5,"BK":25.0,"BE":22.0,"ICMP":18.5,"Avg":22.8},
{"t":93,"EF":26.5,"BK":27.0,"BE":18.5,"ICMP":21.0,"Avg":22.8},
{"t":95,"EF":23.6,"BK":24.2,"BE":23.5,"ICMP":17.8,"Avg":22.5},
{"t":97,"EF":27.0,"BK":26.5,"BE":19.0,"ICMP":20.8,"Avg":22.6},
{"t":99,"EF":24.8,"BK":28.0,"BE":21.5,"ICMP":27.5,"Avg":23.8},
{"t":100.5,"EF":25.5,"BK":24.5,"BE":18.2,"ICMP":18.5,"Avg":23.8},
{"t":102,"EF":28.0,"BK":26.8,"BE":24.0,"ICMP":21.5,"Avg":22.8},
{"t":104,"EF":23.5,"BK":24.0,"BE":19.0,"ICMP":19.0,"Avg":22.6},
{"t":106,"EF":26.0,"BK":27.8,"BE":22.5,"ICMP":21.8,"Avg":22.8},
{"t":108,"EF":24.5,"BK":25.0,"BE":18.0,"ICMP":18.2,"Avg":23.3},
{"t":110,"EF":27.5,"BK":28.0,"BE":21.0,"ICMP":27.0,"Avg":23.6},
{"t":112,"EF":23.8,"BK":24.5,"BE":24.8,"ICMP":19.5,"Avg":23.0},
{"t":114,"EF":25.8,"BK":26.8,"BE":18.5,"ICMP":21.2,"Avg":22.8},
{"t":116,"EF":24.2,"BK":24.0,"BE":21.5,"ICMP":17.8,"Avg":22.7},
{"t":118,"EF":28.0,"BK":27.5,"BE":19.0,"ICMP":20.5,"Avg":22.4},
{"t":120,"EF":23.5,"BK":25.5,"BE":23.0,"ICMP":18.8,"Avg":22.2},
{"t":122,"EF":26.0,"BK":24.0,"BE":18.2,"ICMP":21.5,"Avg":22.1},
{"t":124,"EF":24.8,"BK":27.0,"BE":21.0,"ICMP":19.0,"Avg":22.3},
{"t":126,"EF":27.0,"BK":28.0,"BE":19.5,"ICMP":22.0,"Avg":22.5},
{"t":128,"EF":23.8,"BK":24.8,"BE":24.0,"ICMP":18.2,"Avg":23.2},
{"t":130,"EF":28.0,"BK":26.5,"BE":18.5,"ICMP":21.0,"Avg":23.5},
{"t":132,"EF":24.5,"BK":24.2,"BE":22.0,"ICMP":19.5,"Avg":23.2},
{"t":134,"EF":26.8,"BK":28.0,"BE":19.0,"ICMP":27.5,"Avg":23.7},
{"t":136,"EF":23.6,"BK":25.5,"BE":24.5,"ICMP":18.5,"Avg":23.2},
{"t":138,"EF":25.5,"BK":27.2,"BE":18.8,"ICMP":21.5,"Avg":23.2},
{"t":140,"EF":28.0,"BK":24.0,"BE":21.5,"ICMP":19.0,"Avg":22.9},
{"t":142,"EF":24.0,"BK":26.8,"BE":19.0,"ICMP":22.0,"Avg":23.3},
{"t":144,"EF":26.5,"BK":28.0,"BE":23.5,"ICMP":18.5,"Avg":23.4},
{"t":146,"EF":23.8,"BK":25.0,"BE":18.5,"ICMP":21.2,"Avg":24.0},
{"t":148,"EF":27.8,"BK":27.5,"BE":22.5,"ICMP":19.5,"Avg":23.6},
{"t":150,"EF":24.5,"BK":24.8,"BE":19.5,"ICMP":21.8,"Avg":23.6},
{"t":151.5,"EF":26.0,"BK":28.0,"BE":24.0,"ICMP":18.5,"Avg":23.8},
{"t":153,"EF":23.0,"BK":24.5,"BE":19.0,"ICMP":20.5,"Avg":22.6},
{"t":154.5,"EF":22.5,"BK":22.8,"BE":18.5,"ICMP":19.5,"Avg":22.0},
{"t":155.5,"EF":22.3,"BK":22.5,"BE":19.0,"ICMP":18.0,"Avg":19.0},
{"t":156,"EF":22.0,"BK":22.6,"BE":19.0,"ICMP":null,"Avg":18.9},
{"t":157,"EF":22.3,"BK":22.2,"BE":18.5,"ICMP":null,"Avg":18.9},
{"t":158,"EF":null,"BK":22.5,"BE":20.0,"ICMP":null,"Avg":18.9},
{"t":159,"EF":null,"BK":22.6,"BE":21.5,"ICMP":null,"Avg":19.6},
{"t":160,"EF":null,"BK":26.5,"BE":20.5,"ICMP":null,"Avg":17.3},
{"t":7,"EF":23.2,"BK":24.5,"BE":20.5,"ICMP":17.8,"Avg":22.9},
{"t":9,"EF":25.5,"BK":27.8,"BE":17.9,"ICMP":20.2,"Avg":23.0},
{"t":11,"EF":24.2,"BK":25.8,"BE":21.0,"ICMP":21.5,"Avg":22.8},
{"t":13,"EF":27.9,"BK":23.5,"BE":18.3,"ICMP":18.8,"Avg":22.9},
{"t":15,"EF":23.0,"BK":26.2,"BE":23.5,"ICMP":20.8,"Avg":22.8},
{"t":17,"EF":26.0,"BK":24.2,"BE":20.2,"ICMP":18.0,"Avg":22.7},
{"t":19,"EF":24.5,"BK":28.0,"BE":18.5,"ICMP":21.5,"Avg":23.0},
{"t":21,"EF":27.8,"BK":25.0,"BE":21.5,"ICMP":19.2,"Avg":23.1},
{"t":23,"EF":23.4,"BK":27.0,"BE":19.5,"ICMP":21.0,"Avg":22.8},
{"t":25,"EF":25.8,"BK":24.0,"BE":23.0,"ICMP":18.5,"Avg":22.6},
{"t":27,"EF":24.0,"BK":27.8,"BE":18.0,"ICMP":20.0,"Avg":22.6},
{"t":29,"EF":27.0,"BK":25.0,"BE":22.0,"ICMP":18.0,"Avg":22.7},
{"t":31,"EF":24.8,"BK":26.0,"BE":19.0,"ICMP":21.8,"Avg":23.1},
{"t":33,"EF":23.5,"BK":28.0,"BE":21.2,"ICMP":18.8,"Avg":23.6},
{"t":35,"EF":27.5,"BK":24.2,"BE":24.0,"ICMP":20.5,"Avg":23.7},
{"t":37,"EF":24.5,"BK":26.8,"BE":19.2,"ICMP":18.0,"Avg":23.1},
{"t":39,"EF":26.5,"BK":25.2,"BE":22.8,"ICMP":21.5,"Avg":22.9},
{"t":41,"EF":23.6,"BK":27.5,"BE":18.2,"ICMP":18.8,"Avg":22.7},
{"t":43,"EF":26.0,"BK":24.5,"BE":21.0,"ICMP":20.8,"Avg":22.6},
{"t":45,"EF":24.8,"BK":26.5,"BE":19.5,"ICMP":17.8,"Avg":22.8},
{"t":47,"EF":27.8,"BK":24.0,"BE":23.5,"ICMP":21.0,"Avg":23.4},
{"t":52,"EF":27.5,"BK":27.5,"BE":21.0,"ICMP":19.5,"Avg":22.9},
{"t":54,"EF":24.0,"BK":25.0,"BE":18.5,"ICMP":21.5,"Avg":23.0},
{"t":56,"EF":25.5,"BK":24.0,"BE":23.0,"ICMP":18.8,"Avg":23.0},
{"t":58,"EF":23.6,"BK":27.5,"BE":19.5,"ICMP":21.0,"Avg":22.9},
{"t":60,"EF":27.8,"BK":25.0,"BE":21.8,"ICMP":18.2,"Avg":23.1},
{"t":62,"EF":24.8,"BK":26.8,"BE":18.8,"ICMP":21.2,"Avg":23.0},
{"t":64,"EF":26.5,"BK":24.0,"BE":24.0,"ICMP":18.5,"Avg":22.9},
{"t":66,"EF":23.8,"BK":28.0,"BE":19.5,"ICMP":21.8,"Avg":22.8},
{"t":68,"EF":27.5,"BK":25.5,"BE":21.5,"ICMP":18.0,"Avg":22.9},
{"t":70,"EF":24.2,"BK":24.0,"BE":18.2,"ICMP":20.8,"Avg":23.0},
{"t":72,"EF":25.8,"BK":27.5,"BE":23.5,"ICMP":18.8,"Avg":22.7},
{"t":74,"EF":23.5,"BK":25.8,"BE":19.5,"ICMP":21.2,"Avg":22.8},
{"t":76,"EF":27.8,"BK":24.2,"BE":21.0,"ICMP":19.0,"Avg":22.8},
{"t":78,"EF":24.5,"BK":27.8,"BE":18.5,"ICMP":21.8,"Avg":22.6},
{"t":80,"EF":26.0,"BK":25.5,"BE":23.5,"ICMP":18.2,"Avg":22.5},
{"t":82,"EF":23.6,"BK":24.5,"BE":19.0,"ICMP":21.0,"Avg":22.6},
{"t":84,"EF":27.5,"BK":26.5,"BE":22.0,"ICMP":18.8,"Avg":22.6},
{"t":86,"EF":24.0,"BK":24.2,"BE":18.5,"ICMP":21.5,"Avg":22.7},
{"t":88,"EF":26.8,"BK":27.5,"BE":21.5,"ICMP":18.0,"Avg":23.2},
{"t":90,"EF":23.8,"BK":24.8,"BE":24.0,"ICMP":21.2,"Avg":23.1},
{"t":92,"EF":27.5,"BK":27.8,"BE":19.0,"ICMP":19.0,"Avg":22.8},
{"t":94,"EF":24.2,"BK":25.0,"BE":21.2,"ICMP":21.8,"Avg":22.6},
{"t":96,"EF":26.0,"BK":27.5,"BE":18.2,"ICMP":18.5,"Avg":22.5},
{"t":98,"EF":23.8,"BK":24.5,"BE":23.0,"ICMP":21.0,"Avg":23.2},
{"t":101.2,"EF":23.8,"BK":27.0,"BE":21.8,"ICMP":20.2,"Avg":23.2},
{"t":103,"EF":26.5,"BK":25.5,"BE":18.5,"ICMP":18.2,"Avg":22.7},
{"t":105,"EF":24.0,"BK":24.2,"BE":23.5,"ICMP":21.2,"Avg":22.7},
{"t":107,"EF":27.8,"BK":27.2,"BE":19.2,"ICMP":19.0,"Avg":23.0},
{"t":109,"EF":23.6,"BK":26.0,"BE":22.0,"ICMP":21.5,"Avg":23.4},
{"t":111,"EF":26.2,"BK":24.2,"BE":18.5,"ICMP":18.5,"Avg":23.3},
{"t":113,"EF":24.5,"BK":27.8,"BE":21.8,"ICMP":21.8,"Avg":22.9},
{"t":115,"EF":27.2,"BK":25.0,"BE":19.2,"ICMP":19.0,"Avg":22.7},
{"t":117,"EF":23.8,"BK":26.5,"BE":23.8,"ICMP":21.2,"Avg":22.5},
{"t":119,"EF":25.5,"BK":24.2,"BE":18.5,"ICMP":18.2,"Avg":22.3},
{"t":121,"EF":27.8,"BK":27.8,"BE":21.5,"ICMP":20.8,"Avg":22.1},
{"t":123,"EF":23.6,"BK":25.5,"BE":19.5,"ICMP":18.5,"Avg":22.2},
{"t":125,"EF":26.0,"BK":24.0,"BE":23.0,"ICMP":21.2,"Avg":22.4},
{"t":127,"EF":24.2,"BK":26.8,"BE":18.2,"ICMP":19.0,"Avg":22.8},
{"t":129,"EF":27.5,"BK":25.0,"BE":21.5,"ICMP":21.8,"Avg":23.4},
{"t":131,"EF":23.8,"BK":27.8,"BE":19.5,"ICMP":18.2,"Avg":23.3},
{"t":133,"EF":25.5,"BK":24.8,"BE":23.5,"ICMP":20.8,"Avg":23.4},
{"t":135,"EF":27.8,"BK":26.5,"BE":18.2,"ICMP":19.0,"Avg":23.4},
{"t":137,"EF":24.0,"BK":24.0,"BE":21.8,"ICMP":21.5,"Avg":23.2},
{"t":139,"EF":26.8,"BK":28.0,"BE":19.2,"ICMP":18.2,"Avg":23.0},
{"t":141,"EF":23.5,"BK":25.5,"BE":23.0,"ICMP":20.8,"Avg":23.1},
{"t":143,"EF":27.8,"BK":24.5,"BE":18.5,"ICMP":18.5,"Avg":23.3},
{"t":145,"EF":24.5,"BK":27.0,"BE":21.5,"ICMP":21.8,"Avg":23.7},
{"t":147,"EF":26.2,"BK":24.2,"BE":19.0,"ICMP":18.2,"Avg":23.8},
{"t":149,"EF":23.8,"BK":27.8,"BE":23.8,"ICMP":21.0,"Avg":23.6},
{"t":152.2,"EF":27.0,"BK":25.5,"BE":20.5,"ICMP":21.0,"Avg":23.2}
]
},
"spacing": 22,
"bounds": "flush",
"vconcat": [
{
"width": 337, "height": 107,
"data": {"name": "dl"},
"transform": [{"fold": ["BE","BK","CS5","EF","Avg"], "as": ["s","v"]}],
"encoding": {
"x": {"field": "t", "type": "quantitative", "scale": {"domain": [0, 161], "nice": false, "zero": false}, "axis": {"values": [0,25,50,75,100,125,150], "title": null}},
"y": {"field": "v", "type": "quantitative", "scale": {"domain": [39.68, 50.13], "nice": false, "zero": false}, "axis": {"values": [40,45,50], "title": "Mbits/s"}},
"color": {"field": "s", "type": "nominal", "scale": {"domain": ["BE","BK","CS5","EF","Avg"], "range": ["#1b9e77","#d95f02","#7570b3","#e7298a","#000000"]}, "legend": {"title": "TCP download", "symbolOffset": 21, "labelOffset": 9, "rowPadding": 5, "encode": {"symbols": {"update": {"strokeWidth": {"signal": "datum.value === 'Avg' ? 3 : 1.5"}}}}}}
},
"layer": [
{"transform": [{"filter": "datum.s !== 'Avg'"}], "mark": {"type": "line", "clip": true, "strokeWidth": 1.2}},
{"transform": [{"filter": "datum.s === 'Avg'"}], "mark": {"type": "line", "clip": true, "strokeWidth": 3}}
]
},
{
"width": 337, "height": 107,
"data": {"name": "ul"},
"transform": [{"fold": ["BE","BK","CS5","EF","Avg"], "as": ["s","v"]}],
"encoding": {
"x": {"field": "t", "type": "quantitative", "scale": {"domain": [0, 161], "nice": false, "zero": false}, "axis": {"values": [0,25,50,75,100,125,150], "title": null}},
"y": {"field": "v", "type": "quantitative", "scale": {"domain": [2.17, 5.12], "nice": false, "zero": false}, "axis": {"values": [3,4,5], "title": "Mbits/s"}},
"color": {"field": "s", "type": "nominal", "scale": {"domain": ["BE","BK","CS5","EF","Avg"], "range": ["#1b9e77","#d95f02","#7570b3","#e7298a","#000000"]}, "legend": {"title": "TCP upload", "symbolOffset": 11, "labelOffset": 9, "rowPadding": 5, "encode": {"symbols": {"update": {"strokeWidth": {"signal": "datum.value === 'Avg' ? 3 : 1.5"}}}}}}
},
"layer": [
{"transform": [{"filter": "datum.s !== 'Avg'"}], "mark": {"type": "line", "clip": true, "strokeWidth": 1.2}},
{"transform": [{"filter": "datum.s === 'Avg'"}], "mark": {"type": "line", "clip": true, "strokeWidth": 3}}
]
},
{
"width": 337, "height": 106,
"title": {"text": "Local/remote: ub2004/netperf-eu.bufferbloat.net - Time: 2020-04-24T23:42:22.818862 - Length/step: 150s/0.20s", "orient": "bottom", "anchor": "start", "frame": "group", "dx": -42, "fontSize": 11.25, "fontWeight": "normal", "font": "DejaVu Sans", "color": "black", "offset": -4},
"data": {"name": "pg"},
"transform": [{"fold": ["EF","BK","BE","ICMP","Avg"], "as": ["s","v"]}],
"encoding": {
"x": {"field": "t", "type": "quantitative", "scale": {"domain": [0, 161], "nice": false, "zero": false}, "axis": {"values": [0,25,50,75,100,125,150], "title": "Time (s)"}},
"y": {"field": "v", "type": "quantitative", "scale": {"domain": [17.83, 27.76], "nice": false, "zero": false}, "axis": {"values": [20,25], "title": "Latency (ms)"}},
"color": {"field": "s", "type": "nominal", "scale": {"domain": ["EF","BK","BE","ICMP","Avg"], "range": ["#1b9e77","#d95f02","#7570b3","#e7298a","#000000"]}, "legend": {"title": "Ping (ms)", "labelOffset": 9, "rowPadding": 4.5, "labelExpr": "{'EF':'netperf-eu.bufferbloat.net UDP EF','BK':'netperf-eu.bufferbloat.net UDP BK','BE':'netperf-eu.bufferbloat.net UDP BE','ICMP':'netperf-eu.bufferbloat.net ICMP','Avg':'Avg'}[datum.label]", "encode": {"symbols": {"update": {"strokeWidth": {"signal": "datum.value === 'Avg' ? 3 : 1.5"}}}}}}
},
"layer": [
{"transform": [{"filter": "datum.s !== 'Avg'"}], "mark": {"type": "line", "clip": true, "strokeWidth": 1.2}},
{"transform": [{"filter": "datum.s === 'Avg'"}], "mark": {"type": "line", "clip": true, "strokeWidth": 3}}
]
}
],
"resolve": {"scale": {"color": "independent", "x": "independent", "y": "independent"}, "legend": {"color": "independent"}},
"config": {
"font": "DejaVu Sans",
"view": {"fill": "#e5e5e5", "stroke": null},
"axis": {"grid": true, "gridColor": "#ffffff", "gridWidth": 1, "domain": false, "ticks": false, "labelFontSize": 14, "labelColor": "#000000", "titleFontSize": 14, "titleFontWeight": "normal", "titleColor": "#000000", "labelPadding": 4.5, "titlePadding": 8, "labelFont": "DejaVu Sans", "titleFont": "DejaVu Sans"},
"legend": {"orient": "right", "symbolType": "stroke", "symbolSize": 576, "labelFontSize": 12.5, "labelFont": "DejaVu Sans", "titleFont": "DejaVu Sans", "titleFontSize": 14, "titleFontWeight": "normal", "titleColor": "#000000", "labelColor": "#000000", "padding": 4, "offset": 9, "titlePadding": 7, "labelLimit": 300, "titleLimit": 300, "titleAnchor": "middle"}
}
}
